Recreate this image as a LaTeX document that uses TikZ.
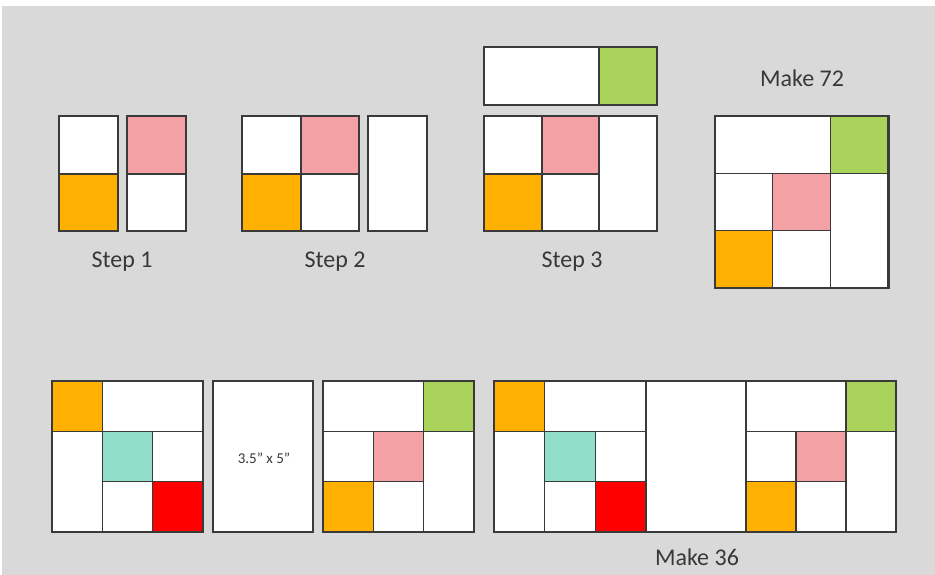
\documentclass[tikz,border=0pt]{standalone}
\usepackage{fontspec}
\setmainfont{Carlito}
\usepackage{tikz}
\usetikzlibrary{positioning}
\usepackage{xcolor}

\definecolor{bggray}{HTML}{D9D9D9}
\definecolor{framegray}{HTML}{3A3A3A}
\definecolor{textgray}{HTML}{383838}
\definecolor{orangeblk}{HTML}{FFB000}
\definecolor{pinkblk}{HTML}{F4A1A6}
\definecolor{greenblk}{HTML}{A9D35B}
\definecolor{tealblk}{HTML}{91DFCB}
\definecolor{redblk}{HTML}{FF0000}

% 3x3 blocks in unit cells
\newcommand{\blockleft}{%
  \fill[white] (0,0) rectangle (3,3);
  \fill[orangeblk] (0,0) rectangle (1,1);
  \fill[tealblk] (1,1) rectangle (2,2);
  \fill[redblk] (2,2) rectangle (3,3);
  \draw[seam] (0,1) -- (3,1) (1,0) -- (1,3) (1,2) -- (3,2) (2,1) -- (2,3);
}
\newcommand{\blockright}{%
  \fill[white] (0,0) rectangle (3,3);
  \fill[greenblk] (2,0) rectangle (3,1);
  \fill[pinkblk] (1,1) rectangle (2,2);
  \fill[orangeblk] (0,2) rectangle (1,3);
  \draw[seam] (0,1) -- (3,1) (2,0) -- (2,3) (0,2) -- (2,2) (1,1) -- (1,3);
}

\begin{document}
\begin{tikzpicture}[x=1pt, y=-1pt,
  seam/.style={draw=framegray, line width=1.5pt},
  outline/.style={draw=framegray, line width=2.8pt},
  steptext/.style={text=textgray, font=\fontsize{24}{28}\selectfont, inner sep=0pt},
  sizetext/.style={text=textgray, font=\fontsize{15}{17}\selectfont, inner sep=0pt}]
  \useasboundingbox (0,0) rectangle (935,575);
  \fill[white] (0,0) rectangle (935,575);
  \fill[bggray] (2,6) rectangle (935,575);

  % step 1
  \fill[white] (59,116) rectangle (118,231);
  \fill[orangeblk] (59,174) rectangle (118,231);
  \draw[seam] (59,174) -- (118,174);
  \draw[outline] (59,116) rectangle (118,231);
  \fill[white] (127,116) rectangle (186,231);
  \fill[pinkblk] (127,116) rectangle (186,174);
  \draw[seam] (127,174) -- (186,174);
  \draw[outline] (127,116) rectangle (186,231);
  \node[steptext] (step1) at (122,262) {Step 1};

  % step 2
  \fill[white] (242,116) rectangle (359,231);
  \fill[pinkblk] (301,116) rectangle (359,174);
  \fill[orangeblk] (242,174) rectangle (301,231);
  \draw[seam] (242,174) -- (359,174) (301,116) -- (301,231);
  \draw[outline] (242,116) rectangle (359,231);
  \fill[white] (368,116) rectangle (427,231);
  \draw[outline] (368,116) rectangle (427,231);
  \node[steptext] (step2) at (335,262) {Step 2};

  % step 3
  \fill[white] (484,47) rectangle (657,105);
  \fill[greenblk] (599,47) rectangle (657,105);
  \draw[seam] (599,47) -- (599,105);
  \draw[outline] (484,47) rectangle (657,105);
  \fill[white] (484,116) rectangle (657,231);
  \fill[pinkblk] (542,116) rectangle (599,174);
  \fill[orangeblk] (484,174) rectangle (542,231);
  \draw[seam] (484,174) -- (599,174) (542,116) -- (542,231) (599,116) -- (599,231);
  \draw[outline] (484,116) rectangle (657,231);
  \node[steptext] (step3) at (572,262) {Step 3};

  % make 72
  \node[steptext] (make72) at (802,78) {Make 72};
  \begin{scope}[shift={(715,116)}, x=57.7pt, y=-57.3pt]
    \blockright
    \draw[outline] (0,0) rectangle (3,3);
  \end{scope}

  % bottom row
  \begin{scope}[shift={(52,381)}, x=50.3pt, y=-50.3pt]
    \blockleft
    \draw[outline] (0,0) rectangle (3,3);
  \end{scope}
  \fill[white] (213,381) rectangle (313,532);
  \draw[outline] (213,381) rectangle (313,532);
  \node[sizetext] (size) at (264,458) {3.5" x 5"};
  \begin{scope}[shift={(323,381)}, x=50.3pt, y=-50.3pt]
    \blockright
    \draw[outline] (0,0) rectangle (3,3);
  \end{scope}

  % make 36
  \fill[white] (494,381) rectangle (896,532);
  \begin{scope}[shift={(494,381)}, x=50.7pt, y=-50.3pt]
    \blockleft
  \end{scope}
  \begin{scope}[shift={(746,381)}, x=50pt, y=-50.3pt]
    \blockright
  \end{scope}
  \draw[seam] (646,381) -- (646,532) (746,381) -- (746,532);
  \draw[outline] (494,381) rectangle (896,532);
  \node[steptext] (make36) at (697,557) {Make 36};
\end{tikzpicture}
\end{document}
